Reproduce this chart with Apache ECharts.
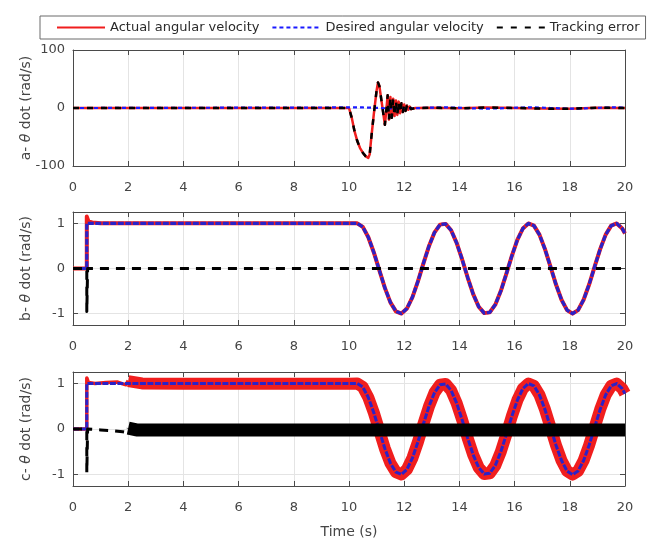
<!DOCTYPE html>
<html>
<head>
<meta charset="utf-8">
<script src="https://cdn.jsdelivr.net/npm/echarts@6/dist/echarts.min.js"></script>
<style>
  html, body { margin: 0; padding: 0; background: #fff; }
  #chart { width: 649px; height: 540px; }
</style>
</head>
<body>
<div id="chart"></div>
<script>
// ---- data ----------------------------------------------------------------
const seriesNames = ['Actual angular velocity', 'Desired angular velocity', 'Tracking error'];
const panelLabels = ['a- {i|θ} dot (rad/s)', 'b- {i|θ} dot (rad/s)', 'c- {i|θ} dot (rad/s)'];
const yTicksTop = [-100, 0, 100];
const yTicksLower = [-1, 0, 1];

// sinusoidal part of the reference command (t >= 10.3 s)
const waveT = [10.3, 10.5, 10.7, 10.9, 11.1, 11.3, 11.5, 11.7, 11.9, 12.1,
               12.3, 12.5, 12.7, 12.9, 13.1, 13.3, 13.5, 13.7, 13.9, 14.1,
               14.3, 14.5, 14.7, 14.9, 15.1, 15.3, 15.5, 15.7, 15.9, 16.1,
               16.3, 16.5, 16.7, 16.9, 17.1, 17.3, 17.5, 17.7, 17.9, 18.1,
               18.3, 18.5, 18.7, 18.9, 19.1, 19.3, 19.5, 19.7, 19.9, 20.0];
const waveV = [1, 0.92, 0.692, 0.355, -0.04, -0.429, -0.749, -0.948, -0.997, -0.885,
               -0.632, -0.279, 0.12, 0.5, 0.8, 0.971, 0.987, 0.845, 0.568, 0.2,
               -0.2, -0.568, -0.845, -0.987, -0.971, -0.8, -0.5, -0.12, 0.279, 0.632,
               0.885, 0.997, 0.948, 0.749, 0.429, 0.04, -0.355, -0.692, -0.92, -1,
               -0.92, -0.692, -0.355, 0.04, 0.429, 0.749, 0.948, 0.997, 0.885, 0.775];

// desired angular velocity: step at 0.5 s, then the sinusoid
const desiredT = [0, 0.5, 0.5].concat(waveT);
const desiredV = [0, 0, 1].concat(waveV);

// (a) actual response with the disturbance near 10 s
const aT = [0, 10.0, 10.1, 10.2, 10.3, 10.4, 10.5, 10.6, 10.7, 10.75, 10.8, 10.9, 11.0, 11.05,
            11.1, 11.2, 11.3, 11.35, 11.4, 11.45, 11.5, 11.55, 11.6, 11.65, 11.7, 11.75,
            11.8, 11.85, 11.9, 11.95, 12.0, 12.05, 12.1, 12.15, 12.2, 12.25, 12.3, 12.4,
            13, 14, 15, 16, 17, 18, 19, 20];
const aV = [0, 0, -17, -40, -57, -69, -77, -83, -86, -80, -55, -10, 30, 44,
            38, 5, -29, -5, 22, -20, 19, -17, 16, -14, 13, -12,
            11, -9, 8, -7, 6, -5, 4, -3, 2.5, -2, 1, 0,
            0.5, -0.5, 1, 0, -1, -1.5, 0.5, 0];

// (b) actual response and tracking error
const bT = [0, 0.5, 0.5, 0.56, 0.7, 1.0].concat(waveT);
const bV = [0, 0, 1.15, 1.04, 1.02, 1.0].concat(waveV);
const ebT = [0, 0.5, 0.5, 0.53, 20];
const ebV = [0, 0, -0.95, 0, 0];

// (c) actual response: clean start, then a chattering band from 2 s
const cT = [0, 0.5, 0.5, 0.56, 0.8, 1.2, 1.6, 1.8, 1.92, 2.0];
const cV = [0, 0, 1.12, 1.02, 1.0, 1.02, 1.03, 0.99, 0.97, 1.06];
const cBandT = [2.0, 2.5, 4, 6, 8, 10].concat(waveT);
const cBandV = [1.05, 1.0, 0.99, 0.99, 0.99, 0.99].concat(waveV);
const ecT = [0, 0.5, 0.5, 0.53, 1.0, 1.5, 1.8, 1.95, 2.0];
const ecV = [0, 0, -0.95, 0, -0.02, -0.04, -0.06, -0.08, 0.02];
const ecBandT = [2.0, 2.3, 20];
const ecBandV = [0.02, -0.02, -0.02];

// ---- helpers -------------------------------------------------------------
const zip = (ts, vs) => ts.map((t, i) => [t, vs[i]]);

const RED = '#f01e1e', BLUE = '#1a1aff', NAVY = '#2a22c8', BLACK = '#000000';
const AXIS = '#4a4a4a', GRIDC = '#e4e4e4', TXT = '#454545';
const FONT = 'DejaVu Sans';

const grids = [
  { left: 73, top: 50, width: 552, height: 116 },
  { left: 73, top: 212, width: 552, height: 113 },
  { left: 73, top: 372, width: 552, height: 114 }
];

const boxLine = { show: true, onZero: false, lineStyle: { color: AXIS, width: 1 } };
const xAxes = [], yAxes = [];
grids.forEach((g, i) => {
  xAxes.push({
    type: 'value', gridIndex: i, min: 0, max: 20, interval: 2, position: 'bottom',
    axisLine: boxLine,
    axisTick: { show: true, inside: true, length: 5, lineStyle: { color: AXIS } },
    axisLabel: { show: true, margin: 15, color: TXT, fontSize: 13, fontFamily: FONT },
    splitLine: { show: true, lineStyle: { color: GRIDC, width: 1 } },
    name: i === 2 ? 'Time (s)' : '', nameLocation: 'middle', nameGap: 39,
    nameTextStyle: { color: TXT, fontSize: 14, fontFamily: FONT }
  });
  xAxes.push({
    type: 'value', gridIndex: i, min: 0, max: 20, interval: 2, position: 'top',
    axisLine: boxLine,
    axisTick: { show: true, inside: true, length: 5, lineStyle: { color: AXIS } },
    axisLabel: { show: false }, splitLine: { show: false }
  });
  const ticks = i === 0 ? yTicksTop : yTicksLower;
  const yBase = i === 0 ? { min: -100, max: 100 } : { min: -1.25, max: 1.25 };
  yAxes.push(Object.assign({
    type: 'value', gridIndex: i, position: 'left',
    axisLine: boxLine,
    axisTick: { show: true, inside: true, length: 5, lineStyle: { color: AXIS }, customValues: ticks },
    axisLabel: { show: true, margin: 8, color: TXT, fontSize: 13, fontFamily: FONT, customValues: ticks },
    splitLine: { show: true, lineStyle: { color: GRIDC, width: 1 }, customValues: ticks },
    name: panelLabels[i], nameLocation: 'middle', nameGap: 40, nameRotate: 90,
    nameMoveOverlap: false,
    nameTextStyle: {
      color: TXT, fontSize: 14, fontFamily: FONT,
      rich: { i: { fontStyle: 'italic', fontSize: 14, fontFamily: FONT, color: TXT } }
    }
  }, yBase));
  yAxes.push(Object.assign({
    type: 'value', gridIndex: i, position: 'right',
    axisLine: boxLine,
    axisTick: { show: true, inside: true, length: 5, lineStyle: { color: AXIS }, customValues: ticks },
    axisLabel: { show: false }, splitLine: { show: false }
  }, yBase));
});

function line(name, panel, data, color, width, dash, z) {
  return {
    name: name, type: 'line', xAxisIndex: panel * 2, yAxisIndex: panel * 2,
    data: data, showSymbol: false, symbol: 'none', animation: false, z: z || 2,
    lineStyle: { color: color, width: width, type: dash || 'solid', cap: 'butt', join: 'round' },
    itemStyle: { color: color }
  };
}

const series = [
  // panel (a)
  line(seriesNames[0], 0, zip(aT, aV), RED, 2.5),
  line(seriesNames[1], 0, zip(desiredT, desiredV), BLUE, 2.2, [4, 3]),
  line(seriesNames[2], 0, zip(aT, aV), BLACK, 2.5, [6, 8]),
  // panel (b)
  line(seriesNames[0], 1, zip(bT, bV), RED, 4),
  line(seriesNames[1], 1, zip(desiredT, desiredV), NAVY, 3.2, [6, 1.5]),
  line(seriesNames[2], 1, zip(ebT, ebV), BLACK, 3, [9, 7]),
  // panel (c)
  line(seriesNames[0], 2, zip(cT, cV), RED, 3.5),
  line(seriesNames[0], 2, zip(cBandT, cBandV), RED, 12),
  line(seriesNames[1], 2, zip(desiredT, desiredV), NAVY, 3, [6, 1.5]),
  line(seriesNames[2], 2, zip(ecT, ecV), BLACK, 3, [9, 7]),
  line(seriesNames[2], 2, zip(ecBandT, ecBandV), BLACK, 13)
];

const chart = echarts.init(document.getElementById('chart'), null, { renderer: 'canvas' });
chart.setOption({
  backgroundColor: '#ffffff',
  animation: false,
  legend: {
    data: seriesNames, left: 40, top: 16, padding: [5, 6, 5, 16],
    itemWidth: 48, itemHeight: 12, itemGap: 12,
    itemStyle: { opacity: 0 },
    borderColor: '#6a6a6a', borderWidth: 1, borderRadius: 0,
    textStyle: { color: '#2a2a2a', fontSize: 13, fontFamily: FONT }
  },
  grid: grids,
  xAxis: xAxes,
  yAxis: yAxes,
  series: series
});
</script>
</body>
</html>
